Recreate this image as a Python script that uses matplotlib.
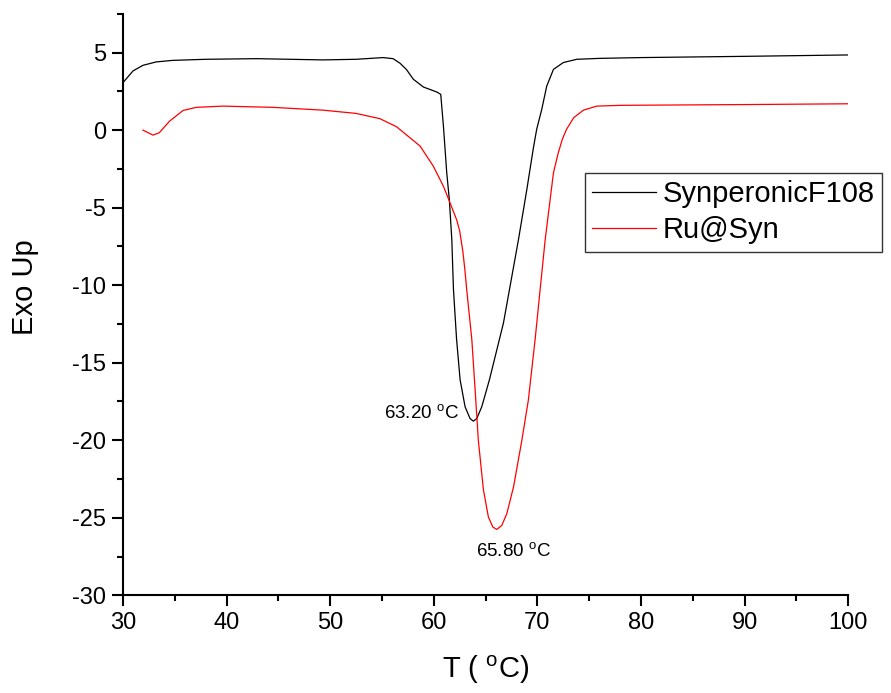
import numpy as np
import matplotlib
matplotlib.use("Agg")
import matplotlib.pyplot as plt
from matplotlib.ticker import MultipleLocator

plt.rcParams['font.family'] = ['Liberation Sans', 'DejaVu Sans']
plt.rcParams['mathtext.fontset'] = 'custom'
plt.rcParams['mathtext.rm'] = 'Liberation Sans'
plt.rcParams['axes.unicode_minus'] = False

# SynperonicF108 (black)
t_syn = [30.0, 30.97, 31.93, 33.2, 34.8, 38.0, 42.9, 49.3, 52.5, 55.1, 56.07,
         56.75, 57.35, 58.03, 59.0, 60.29, 60.67, 60.93, 61.25, 61.5, 61.74,
         61.9, 62.2, 62.54, 63.02, 63.5, 63.82, 64.15, 64.63, 65.37, 66.72,
         68.17, 68.98, 69.6, 69.93, 70.42, 70.9, 71.55, 72.5, 73.8, 76.05,
         80, 90, 100]
y_syn = [3.06, 3.82, 4.18, 4.4, 4.5, 4.57, 4.61, 4.53, 4.57, 4.68, 4.61,
         4.31, 3.92, 3.28, 2.78, 2.46, 2.31, 0.26, -2.75, -4.48, -7.07,
         -10.3, -13.5, -16.1, -17.84, -18.6, -18.77, -18.6, -17.84, -16.1, -12.45,
         -7.07, -3.83, -1.2, 0.05, 1.34, 2.84, 3.92, 4.36, 4.57, 4.63,
         4.68, 4.76, 4.85]

# Ru@Syn (red)
t_ru = [31.93, 32.9, 33.5, 34.5, 35.8, 37.08, 39.65, 44.5, 49.3, 52.5, 54.8,
        56.4, 57.7, 58.68, 59.96, 60.93, 61.57, 62.2, 62.5, 62.8, 63.0,
        63.18, 63.67, 63.99, 64.3, 64.79, 65.27, 65.7, 66.08, 66.56, 67.05,
        67.7, 68.5, 69.13, 69.78, 70.26, 70.75, 71.55, 72.0, 72.4, 72.81,
        73.5, 74.44, 75.73, 78, 90, 100]
y_ru = [0.0, -0.32, -0.17, 0.58, 1.27, 1.47, 1.55, 1.47, 1.29, 1.08, 0.74,
        0.22, -0.49, -1.03, -2.33, -3.62, -4.69, -5.77, -6.5, -7.8, -9.0,
        -10.3, -13.5, -16.76, -20.0, -23.2, -24.95, -25.6, -25.75, -25.5, -24.73,
        -23.0, -20.0, -17.4, -13.5, -10.3, -7.07, -2.75, -1.5, -0.6, 0.05,
        0.8, 1.29, 1.55, 1.6, 1.65, 1.7]

fig = plt.figure(figsize=(8.91, 6.93), dpi=100)
ax = fig.add_axes([0.138, 0.141, 0.814, 0.839])

ax.plot(t_syn, y_syn, color='black', lw=0.9, label='SynperonicF108')
ax.plot(t_ru, y_ru, color='#ff0000', lw=0.9, label='Ru@Syn')

ax.set_xlim(30, 100)
ax.set_ylim(-30, 7.5)
ax.xaxis.set_major_locator(MultipleLocator(10))
ax.xaxis.set_minor_locator(MultipleLocator(5))
ax.yaxis.set_major_locator(MultipleLocator(5))
ax.yaxis.set_minor_locator(MultipleLocator(2.5))
ax.set_yticks([-30, -25, -20, -15, -10, -5, 0, 5])

for s in ['top', 'right']:
    ax.spines[s].set_visible(False)
for s in ['left', 'bottom']:
    ax.spines[s].set_linewidth(1.5)

ax.tick_params(which='major', direction='out', length=8, width=1.5, labelsize=17, pad=4)
ax.tick_params(which='minor', direction='out', length=4.5, width=1.5)

ax.set_xlabel(r'T ( $^{\mathrm{o}}$C)', fontsize=21, va='center')
ax.xaxis.set_label_coords(0.5, -0.129)
ax.set_ylabel('Exo Up', fontsize=21, va='center')
ax.yaxis.set_label_coords(-0.135, 0.53)

ax.text(62.45, -18.3, r'63.20 $^{\mathrm{o}}$C', fontsize=13.5, ha='right', va='center')
ax.text(67.7, -27.2, r'65.80 $^{\mathrm{o}}$C', fontsize=13.5, ha='center', va='center')

leg = ax.legend(loc='upper left', bbox_to_anchor=(0.6566, 0.7504),
                bbox_transform=fig.transFigure, fontsize=21, frameon=True,
                fancybox=False, shadow=False, borderpad=0.25, labelspacing=0.28,
                handlelength=2.2, handletextpad=0.2, borderaxespad=0)
leg.get_frame().set_edgecolor('black')
leg.get_frame().set_linewidth(1.0)
for line in leg.get_lines():
    line.set_linewidth(0.9)

fig.savefig('out.png', dpi=100)
